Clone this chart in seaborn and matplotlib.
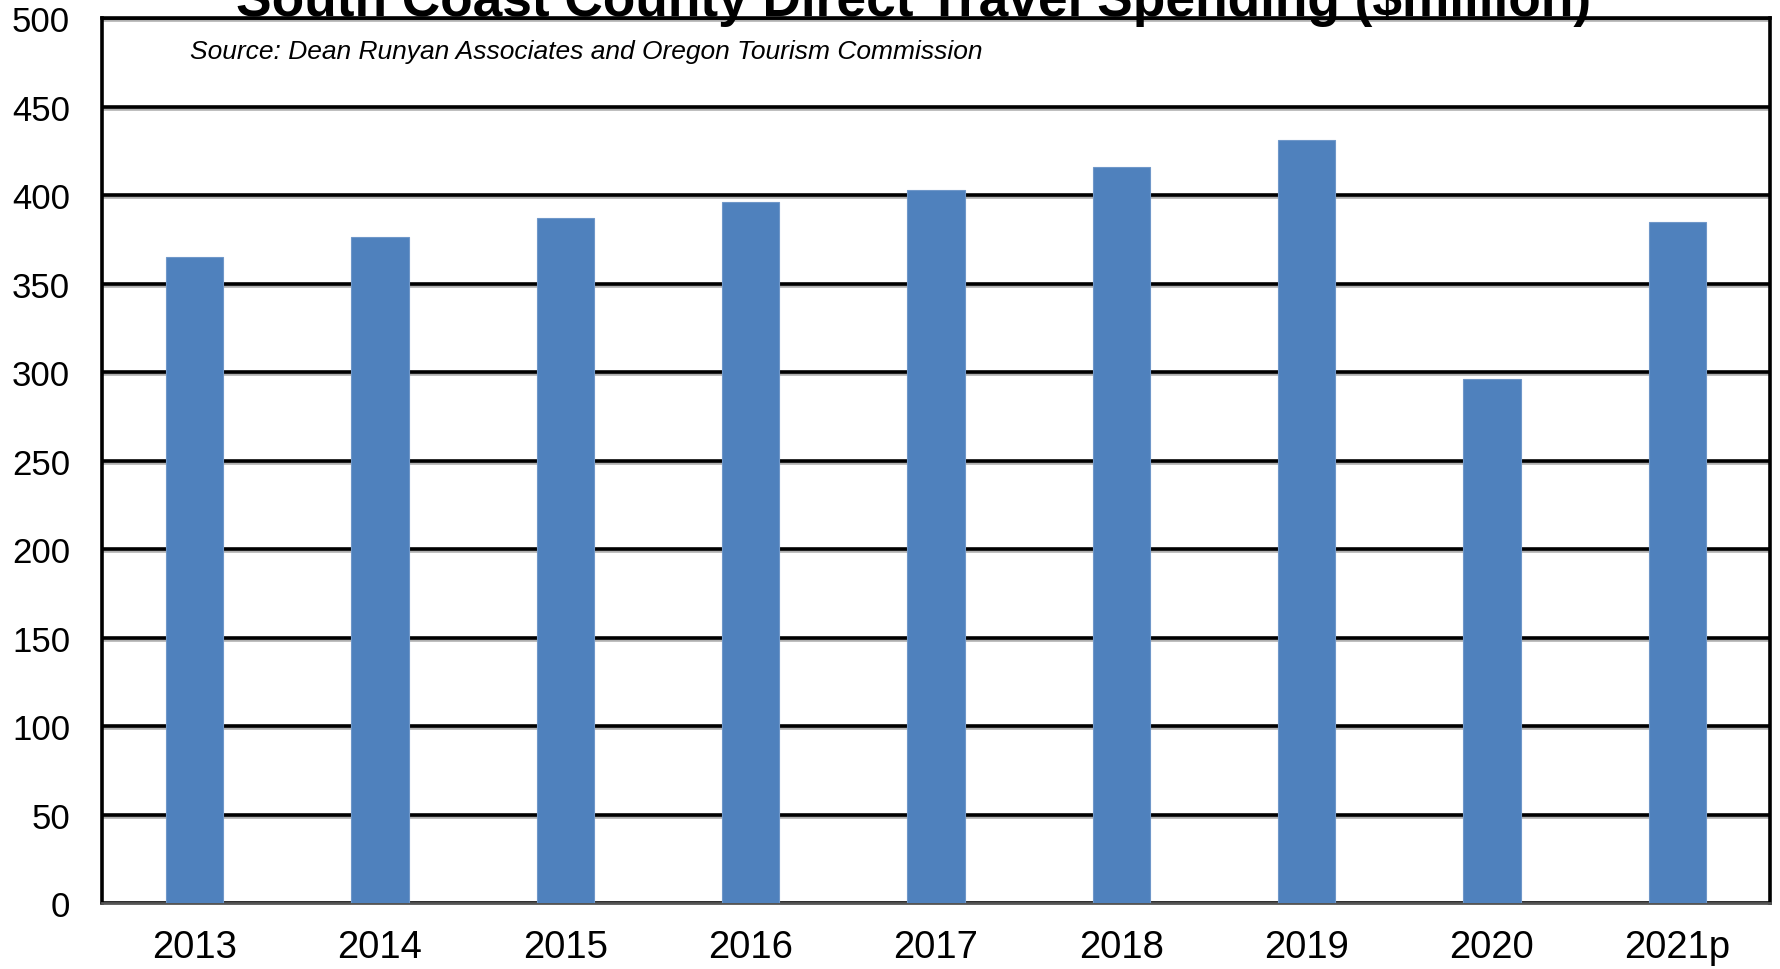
import matplotlib
matplotlib.use("Agg")
import matplotlib.pyplot as plt
import matplotlib.patheffects as pe
import seaborn as sns
import pandas as pd

years = ["2013", "2014", "2015", "2016", "2017", "2018", "2019", "2020", "2021p"]
spending = [365, 376, 387, 396, 403, 416, 431, 296, 385]
y_ticks = [0, 50, 100, 150, 200, 250, 300, 350, 400, 450, 500]

title = "South Coast County Direct Travel Spending ($million)"
source = "Source: Dean Runyan Associates and Oregon Tourism Commission"

sns.set_theme(style="white")
plt.rcParams["font.family"] = ["Liberation Sans", "DejaVu Sans"]

df = pd.DataFrame({"year": years, "value": spending})

fig = plt.figure(figsize=(17.81, 9.70), dpi=100)
ax = fig.add_axes([0.0573, 0.068, 0.9365, 0.9124])

sns.barplot(data=df, x="year", y="value", color="#4F81BD", width=0.31,
            saturation=1, ax=ax, zorder=3, edgecolor="#6F97C9", linewidth=0.8)

ax.set_ylim(0, 500)
ax.set_xlim(-0.5, len(years) - 0.5)
ax.set_yticks(y_ticks)
ax.set_yticklabels([str(v) for v in y_ticks])
ax.set_xlabel("")
ax.set_ylabel("")
ax.tick_params(axis="y", length=0, pad=23, labelsize=25, labelcolor="black")
ax.tick_params(axis="x", length=0, pad=19, labelsize=27.5, labelcolor="black")

ax.yaxis.grid(True, color="black", linewidth=2.6, zorder=1,
              path_effects=[pe.SimpleLineShadow(offset=(0, -1.6), shadow_color="#B0B0B0", alpha=1),
                            pe.Normal()])
ax.set_axisbelow(True)
for side in ["left", "right", "top"]:
    ax.spines[side].set_color("black")
    ax.spines[side].set_linewidth(2.6)
ax.spines["bottom"].set_color("#555555")
ax.spines["bottom"].set_linewidth(2.0)

fig.text(0.513, 0.9835, title, ha="center", va="baseline", fontsize=38.3,
         fontweight="bold", color="black", zorder=10)
fig.text(0.1067, 0.946, source, ha="left", va="center", fontsize=19,
         style="italic", color="black")

fig.savefig("out.png", dpi=100)
